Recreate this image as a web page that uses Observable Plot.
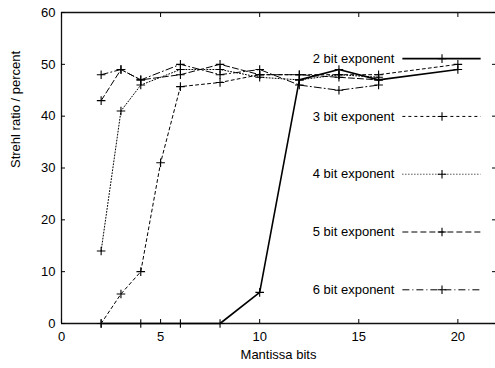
<!DOCTYPE html>
<html>
<head>
<meta charset="utf-8">
<script src="https://cdn.jsdelivr.net/npm/d3@7"></script>
<script src="https://cdn.jsdelivr.net/npm/@observablehq/plot@0.6"></script>
<style>
  html, body { margin: 0; padding: 0; background: #fff; }
  #chart svg { display: block; font-family: "Liberation Sans", Arial, Helvetica, sans-serif; }
</style>
</head>
<body>
<div id="chart"></div>
<script>
// ---- data ----
const seriesNames = ["2 bit exponent", "3 bit exponent", "4 bit exponent", "5 bit exponent", "6 bit exponent"];

const x2 = [2, 4, 6, 8, 10, 12, 14, 16, 20];
const y2 = [0, 0, 0, 0, 6, 47, 49, 47, 49];

const x3 = [2, 3, 4, 5, 6, 8, 10, 12, 14, 16, 20];
const y3 = [0, 5.7, 10, 31, 45.7, 46.5, 48, 48, 48, 48, 50];

const x4 = [2, 3, 4, 6, 8, 10, 12, 14, 16];
const y4 = [14, 41, 46, 49, 49, 47.5, 47, 48, 47.5];

const x5 = [2, 3, 4, 6, 8, 10, 12, 14, 16];
const y5 = [43, 49, 47, 48, 50, 48, 48, 47.5, 47];

const x6 = [2, 3, 4, 6, 8, 10, 12, 14, 16];
const y6 = [48, 49, 47, 50, 48, 49, 46, 45, 46];

const xTicks = [0, 5, 10, 15, 20];
const yTicks = [0, 10, 20, 30, 40, 50, 60];

// ---- build a long table ----
const xsAll = [x2, x3, x4, x5, x6];
const ysAll = [y2, y3, y4, y5, y6];
const data = [];
seriesNames.forEach((name, i) => {
  xsAll[i].forEach((x, j) => data.push({series: name, x, y: ysAll[i][j]}));
});

// ---- styles ----
const dashes = [null, "3,3", "1,2", "6,3", "7,3,1,3"];
const widths = [1.6, 1, 1, 1, 1];

const plusSymbol = {
  draw(ctx, size) {
    const r = Math.sqrt(size / Math.PI);
    ctx.moveTo(-r, 0); ctx.lineTo(r, 0);
    ctx.moveTo(0, -r); ctx.lineTo(0, r);
  }
};

// legend layout (in scale space)
const legendTextX = 16.8, legendX1 = 17.2, legendX2 = 21.15, legendMarkX = 19.2;
const legendTop = 51.1, legendStep = 11.15;
const legend = seriesNames.map((name, i) => ({name, i, y: legendTop - i * legendStep}));

const marks = [];
// frame
marks.push(Plot.ruleY([0, 60], {stroke: "#111", strokeWidth: 1.3}));
marks.push(Plot.ruleX([0], {stroke: "#111", strokeWidth: 1.3}));
// axes
marks.push(Plot.axisY({ticks: yTicks, tickSize: 0, tickPadding: 6, label: null, fontSize: 13}));
marks.push(Plot.axisY({ticks: yTicks, tickSize: -4, tickFormat: () => "", label: null}));
marks.push(Plot.axisY({ticks: yTicks, anchor: "right", tickSize: -4, tickFormat: () => "", label: null}));
marks.push(Plot.axisX({ticks: xTicks, tickSize: 0, tickPadding: 8, label: null, fontSize: 13}));
marks.push(Plot.axisX({ticks: xTicks, tickSize: -4, tickFormat: () => "", label: null}));
marks.push(Plot.axisX({ticks: xTicks, anchor: "top", tickSize: -4, tickFormat: () => "", label: null}));

seriesNames.forEach((name, i) => {
  const sub = data.filter(d => d.series === name);
  marks.push(Plot.line(sub, {x: "x", y: "y", stroke: "black", strokeWidth: widths[i], strokeDasharray: dashes[i]}));
  marks.push(Plot.dot(sub, {x: "x", y: "y", symbol: plusSymbol, r: 4.3, stroke: "black", strokeWidth: 1.1, fill: "none"}));
  const lg = legend.filter(d => d.i === i);
  marks.push(Plot.text(lg, {x: legendTextX, y: "y", text: "name", textAnchor: "end", fontSize: 13, fill: "black"}));
  marks.push(Plot.link(lg, {x1: legendX1, x2: legendX2, y1: "y", y2: "y", stroke: "black", strokeWidth: widths[i], strokeDasharray: dashes[i]}));
  marks.push(Plot.dot(lg, {x: legendMarkX, y: "y", symbol: plusSymbol, r: 4.3, stroke: "black", strokeWidth: 1.1, fill: "none"}));
});

const chart = Plot.plot({
  width: 495,
  height: 368,
  marginLeft: 61,
  marginTop: 12,
  marginBottom: 45,
  marginRight: 0,
  style: {fontSize: "13px", color: "black", background: "white", overflow: "visible"},
  x: {domain: [0, 22], range: [61, 497]},
  y: {domain: [0, 60], range: [323, 12]},
  marks: [
    ...marks,
    Plot.text(["Strehl ratio / percent"], {frameAnchor: "left", dx: -46, rotate: -90, text: d => d, fontSize: 13, fill: "black"}),
    Plot.text(["Mantissa bits"], {frameAnchor: "bottom", dy: 35, text: d => d, fontSize: 13, fill: "black"})
  ]
});
document.getElementById("chart").appendChild(chart);
</script>
</body>
</html>
